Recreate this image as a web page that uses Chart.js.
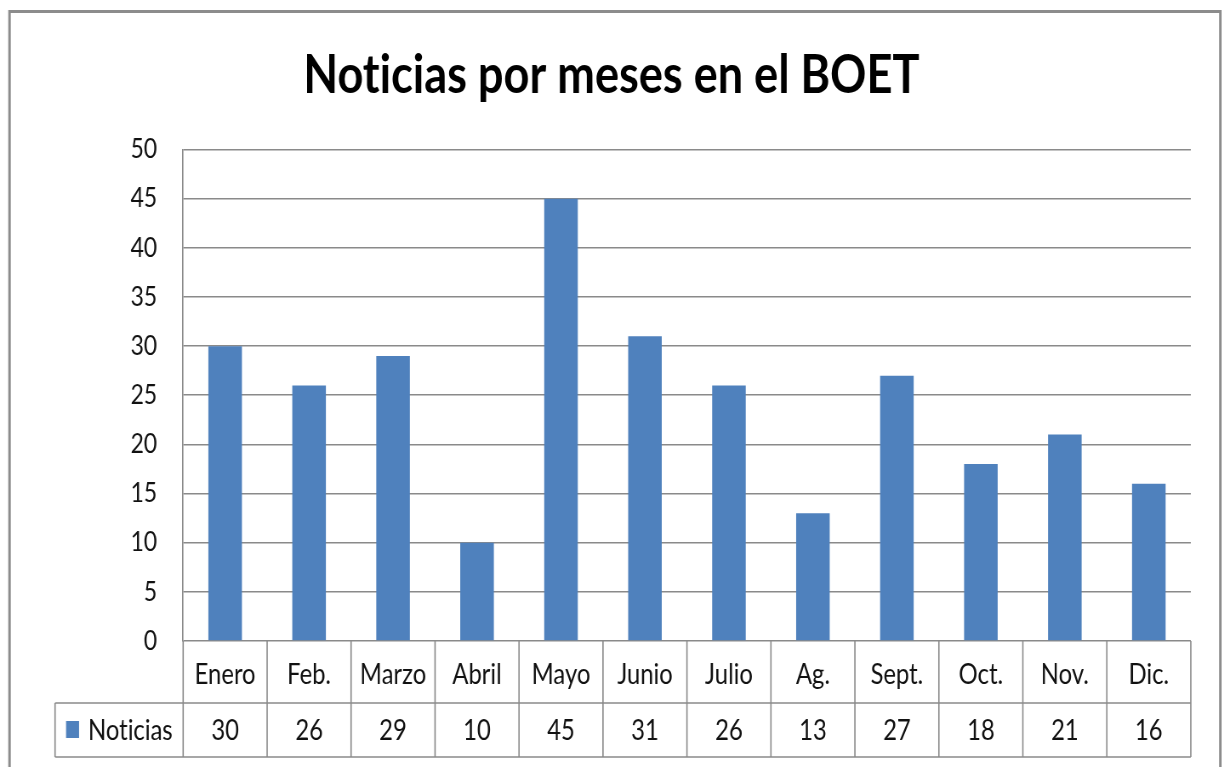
<!DOCTYPE html>
<html>
<head>
<meta charset="utf-8">
<script src="https://cdn.jsdelivr.net/npm/chart.js@4/dist/chart.umd.min.js"></script>
<style>
  html, body { margin: 0; padding: 0; background: #fff; overflow: hidden; }
  #wrap { position: relative; height: 767px; transform-origin: 0 0; }
</style>
</head>
<body>
<div id="wrap"><canvas id="chart"></canvas></div>
<script>
const MONTHS = ["Enero", "Feb.", "Marzo", "Abril", "Mayo", "Junio", "Julio", "Ag.", "Sept.", "Oct.", "Nov.", "Dic."];
const NOTICIAS = [30, 26, 29, 10, 45, 31, 26, 13, 27, 18, 21, 16];
const SERIES_NAME = "Noticias";
const TITLE = "Noticias por meses en el BOET";

const FONT = "Lato, 'Open Sans', sans-serif";
const BAR_COLOR = "#4F81BD";
const LINE_COLOR = "#8a8a8a";

// the whole chart is drawn wide and squeezed horizontally (narrow type look)
const SX = 0.85;
const W = 1222;
const sx = v => v / SX;

const wrap = document.getElementById("wrap");
wrap.style.width = sx(W) + "px";
wrap.style.transform = "scaleX(" + SX + ")";

const ROW_H = 62;      // category row
const VAL_ROW_H = 54;  // value row
const KEY_LEFT = 55;   // left edge of legend cell

// no "ti" ligatures
const plainText = {
  id: "plainText",
  beforeDraw(chart) {
    chart.ctx.textRendering = "optimizeSpeed";
  }
};

// data table under the plot + outer frame
const tablePlugin = {
  id: "dataTable",
  afterDraw(chart) {
    const { ctx, chartArea, scales } = chart;
    const x = scales.x;
    const top = chartArea.bottom;
    const mid = top + ROW_H;
    const bot = mid + VAL_ROW_H;
    const step = (chartArea.right - chartArea.left) / MONTHS.length;

    ctx.save();
    ctx.strokeStyle = LINE_COLOR;
    ctx.lineWidth = 1.6;
    ctx.beginPath();
    for (let i = 0; i <= MONTHS.length; i++) {
      const px = chartArea.left + step * i;
      ctx.moveTo(px, top);
      ctx.lineTo(px, bot);
    }
    ctx.moveTo(sx(KEY_LEFT), mid);
    ctx.lineTo(chartArea.right, mid);
    ctx.moveTo(sx(KEY_LEFT), bot);
    ctx.lineTo(chartArea.right, bot);
    ctx.moveTo(sx(KEY_LEFT), mid);
    ctx.lineTo(sx(KEY_LEFT), bot);
    ctx.stroke();

    // legend key
    const cy = (mid + bot) / 2;
    ctx.fillStyle = BAR_COLOR;
    ctx.fillRect(sx(66), cy - 9, sx(13), 17);
    ctx.fillStyle = "#111";
    ctx.font = "28px " + FONT;
    ctx.textBaseline = "middle";
    ctx.textAlign = "left";
    ctx.fillText(SERIES_NAME, sx(88), cy + 1);

    // values
    ctx.textAlign = "center";
    NOTICIAS.forEach((v, i) => {
      ctx.fillText(String(v), x.getPixelForValue(i), cy + 1);
    });

    // outer frame
    ctx.strokeStyle = "#8c8c8c";
    ctx.lineWidth = 3;
    ctx.strokeRect(sx(9.5), 11.5, sx(1210), 800);
    ctx.restore();
  }
};

new Chart(document.getElementById("chart"), {
  type: "bar",
  data: {
    labels: MONTHS,
    datasets: [{
      label: SERIES_NAME,
      data: NOTICIAS,
      backgroundColor: BAR_COLOR,
      barPercentage: 0.4,
      categoryPercentage: 1
    }]
  },
  options: {
    responsive: true,
    maintainAspectRatio: false,
    animation: false,
    layout: { padding: { left: sx(32), right: sx(32), top: 0, bottom: 0 } },
    plugins: {
      legend: { display: false },
      tooltip: { enabled: false },
      title: {
        display: true,
        text: TITLE,
        color: "#000",
        font: { family: FONT, size: 53, weight: "bold", lineHeight: 1.2 },
        padding: { top: 44, bottom: 42 }
      }
    },
    scales: {
      x: {
        grid: { display: false },
        border: { display: false },
        ticks: { color: "#111", font: { family: FONT, size: 28 }, padding: 9, maxRotation: 0 },
        afterFit(scale) { scale.height = ROW_H + VAL_ROW_H + 10; }
      },
      y: {
        min: 0,
        max: 50,
        ticks: { stepSize: 5, color: "#111", font: { family: FONT, size: 27 }, padding: sx(26) },
        grid: { color: LINE_COLOR, lineWidth: 1.6, drawTicks: false },
        border: { color: LINE_COLOR, width: 1.6 },
        afterFit(scale) { scale.width = sx(151); }
      }
    }
  },
  plugins: [plainText, tablePlugin]
});
</script>
</body>
</html>
